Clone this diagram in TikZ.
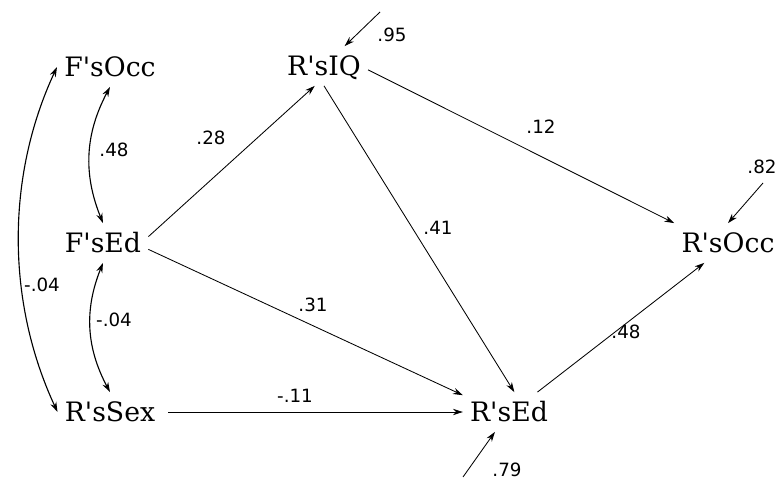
\documentclass[tikz,border=0pt]{standalone}
\usepackage{fontspec}
\newfontfamily\varfont[Ligatures=TeXOff]{DejaVu Serif}
\newfontfamily\numfont[Ligatures=TeXOff]{DejaVu Sans}
\usetikzlibrary{arrows.meta}
\begin{document}
\begin{tikzpicture}[
  var/.style={font=\varfont\fontsize{19}{22}\selectfont, inner xsep=5pt, inner ysep=7pt, text height=13.9pt, text depth=0pt},
  coef/.style={font=\numfont\fontsize{13}{15}\selectfont, inner sep=1pt},
  path/.style={-{Stealth[length=7pt, width=4.5pt]}, line width=0.6pt},
  cov/.style={{Stealth[length=7pt, width=4.5pt]}-{Stealth[length=7pt, width=4.5pt]}, line width=0.8pt}]
  \useasboundingbox (0,0) rectangle (19.525,-12.075);
  \node[var] (FsOcc) at (2.75,-1.675) {F'sOcc};
  \node[var] (FsEd) at (2.575,-6.075) {F'sEd};
  \node[var] (RsSex) at (2.75,-10.3) {R'sSex};
  \node[var] (RsIQ) at (8.1,-1.65) {R'sIQ};
  \node[var] (RsOcc) at (18.2,-6.075) {R'sOcc};
  \node[var] (RsEd) at (12.725,-10.3) {R'sEd};
  % residuals
  \coordinate (eIQ) at (9.5,-0.3);
  \coordinate (eEd) at (11.575,-11.925);
  \coordinate (eOcc) at (19.075,-4.575);
  \draw[path] (eIQ) -- (RsIQ);
  \draw[path] (eEd) -- (RsEd);
  \draw[path] (eOcc) -- (RsOcc.north);
  % paths
  \draw[path] (FsEd.8) -- (RsIQ.-115);
  \draw[path] (FsEd.-8) -- (RsEd.160);
  \draw[path, shorten <=4pt] (RsSex) -- (RsEd);
  \draw[path] (RsIQ.south) -- (RsEd.75);
  \draw[path] (RsIQ.-5) -- (RsOcc.north west);
  \draw[path] (RsEd.35) -- (RsOcc.-140);
  % correlations
  \draw[cov] (FsOcc.south) to[bend right=25] (FsEd.north);
  \draw[cov] (FsEd.south) to[bend right=25] (RsSex.north);
  \draw[cov] (FsOcc.west) to[out=-115, in=115, looseness=0.9] (RsSex.west);
  % coefficients
  \node[coef] (c28) at (5.275,-3.45) {.28};
  \node[coef] (c31) at (7.825,-7.625) {.31};
  \node[coef] (c11) at (7.375,-9.9) {-.11};
  \node[coef] (c41) at (10.95,-5.7) {.41};
  \node[coef] (c12) at (13.525,-3.175) {.12};
  \node[coef] (c48b) at (15.65,-8.3) {.48};
  \node[coef] (c95) at (9.8,-0.875) {.95};
  \node[coef] (c79) at (12.675,-11.75) {.79};
  \node[coef] (c82) at (19.05,-4.175) {.82};
  \node[coef] (c48a) at (2.85,-3.75) {.48};
  \node[coef] (c04a) at (2.85,-8.0) {-.04};
  \node[coef] (c04b) at (1.05,-7.125) {-.04};
\end{tikzpicture}
\end{document}
